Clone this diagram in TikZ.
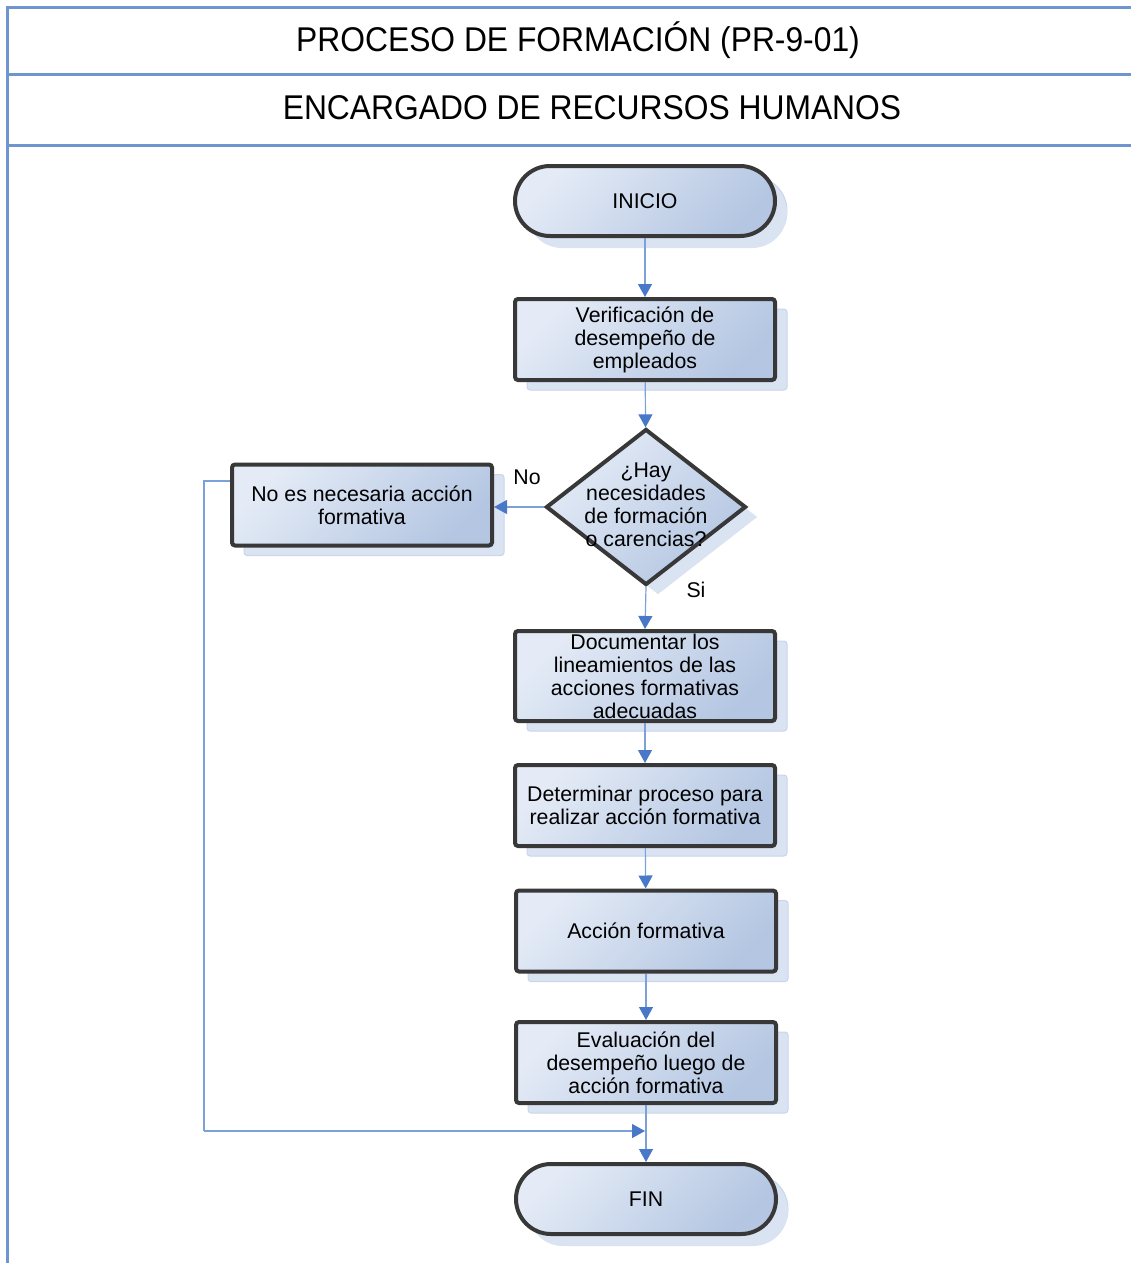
\documentclass[tikz,border=0pt]{standalone}
\usepackage{fontspec}
\setmainfont{Liberation Sans}
\usetikzlibrary{shapes.geometric,arrows.meta,shadows}

\definecolor{framebl}{HTML}{6F95CE}
\definecolor{linkbl}{HTML}{7CA0D8}
\definecolor{tipbl}{HTML}{4A78C8}
\definecolor{shadebl}{HTML}{DAE3F2}
\definecolor{shadeedge}{HTML}{C8D5EB}
\definecolor{fillhi}{HTML}{E4EBF6}
\definecolor{filllo}{HTML}{B4C6E2}
\definecolor{edgegr}{HTML}{383838}

\tikzset{
  bodyfont/.style={font=\fontsize{21.3}{23}\selectfont},
  flowbox/.style={rectangle, rounded corners=3pt, draw=edgegr, line width=4pt,
    top color=fillhi, bottom color=filllo, shading angle=45,
    minimum width=260pt, minimum height=81pt, inner sep=0pt, align=center,
    bodyfont, general shadow={fill=shadebl, draw=shadeedge, line width=1pt,
      shadow xshift=12pt, shadow yshift=-10pt}},
  termbox/.style={flowbox, rounded corners=35pt, minimum height=70pt,
    general shadow={fill=shadebl, shadow xshift=12pt, shadow yshift=-12pt}},
  decbox/.style={diamond, draw=edgegr, line width=4pt,
    top color=fillhi, bottom color=filllo, shading angle=45,
    minimum width=200pt, minimum height=156pt, inner sep=0pt,
    general shadow={fill=shadebl, shadow xshift=12pt, shadow yshift=-10pt}},
  link/.style={draw=linkbl, line width=1.2pt,
    -{Triangle[width=14pt,length=13pt,fill=tipbl,color=tipbl]}},
  plainlink/.style={draw=linkbl, line width=1.2pt},
  frameline/.style={draw=framebl, line width=3pt},
  titlefont/.style={font=\fontsize{31.8}{36}\selectfont, yscale=1.08}
}

\begin{document}
\begin{tikzpicture}[x=1pt,y=-1pt]
\useasboundingbox (0,0) rectangle (1131,1263);

% table frame with the two heading rows
\coordinate (fTL) at (7,8);
\coordinate (fTR) at (1131,8);
\coordinate (fBL) at (7,1263);
\coordinate (r1L) at (7,74);
\coordinate (r1R) at (1131,74);
\coordinate (r2L) at (7,145);
\coordinate (r2R) at (1131,145);
\draw[frameline] (fTR) -- (fTL) -- (fBL);
\draw[frameline] (r1L) -- (r1R);
\draw[frameline] (r2L) -- (r2R);
\node[titlefont] (title) at (578,40) {PROCESO DE FORMACIÓN (PR-9-01)};
\node[titlefont] (role) at (592,108) {ENCARGADO DE RECURSOS HUMANOS};

% flow nodes
\node[termbox] (inicio) at (645,201) {INICIO};
\node[flowbox] (verif) at (645,339.5) {Verificación de\\desempeño de\\empleados};
\node[decbox] (dec) at (646,507) {};
\node[bodyfont, align=center, inner sep=0pt] (decq) at (646,505)
  {¿Hay\\necesidades\\de formación\\o carencias?};
\node[flowbox] (noacc) at (362,505) {No es necesaria acción\\formativa};
\node[flowbox, minimum height=90pt] (docu) at (645,676)
  {Documentar los\\lineamientos de las\\acciones formativas\\adecuadas};
\node[flowbox] (deter) at (645,805.5) {Determinar proceso para\\realizar acción formativa};
\node[flowbox] (accion) at (646,931) {Acción formativa};
\node[flowbox] (evalu) at (646,1062.5) {Evaluación del\\desempeño luego de\\acción formativa};
\node[termbox] (fin) at (646,1199) {FIN};

% branch labels
\node[bodyfont] (lblno) at (527,477) {No};
\node[bodyfont] (lblsi) at (696,590) {Si};

% connectors
\draw[link] (inicio) -- (verif);
\draw[link] (verif) -- (dec);
\draw[link] (dec.west) -- (dec.west -| noacc.east);
\draw[link] (dec.south) -- (docu.north);
\draw[link] (docu) -- (deter);
\draw[link] (deter) -- (accion);
\draw[link] (accion) -- (evalu);
\draw[link] (evalu) -- (fin);

% return path from the "No" branch to the end
\coordinate (loopL) at (204,481);
\coordinate (loopB) at (204,1131);
\coordinate (joinpt) at (645,1131);
\draw[plainlink] ([yshift=24pt]noacc.west) -- (loopL) -- (loopB);
\draw[link] (loopB) -- (joinpt);
\end{tikzpicture}
\end{document}
